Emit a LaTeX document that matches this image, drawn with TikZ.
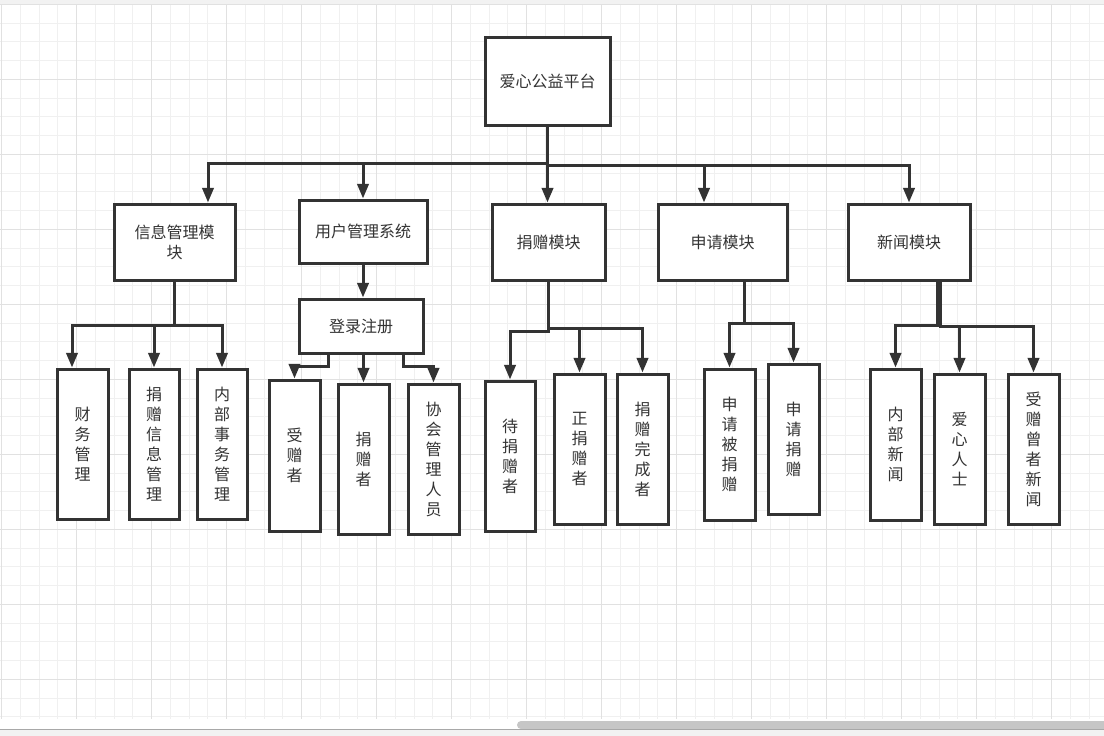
\documentclass[tikz,border=0pt]{standalone}
\usepackage{fontspec}
\setmainfont{Noto Sans CJK SC}
\usetikzlibrary{arrows.meta,calc}
\definecolor{ink}{HTML}{333333}
\definecolor{gminor}{HTML}{F0F0F0}
\definecolor{gmajor}{HTML}{E1E1E1}
\definecolor{chrome}{HTML}{F2F2F2}
\definecolor{thumb}{HTML}{C6C6C6}
\definecolor{sepline}{HTML}{A8A8A8}
\begin{document}
\begin{tikzpicture}[x=0.75pt,y=-0.75pt,
  box/.style={draw=ink, line width=2.25pt, fill=white, rectangle, inner sep=0pt, text=ink,
    font=\fontsize{12pt}{15pt}\selectfont, align=center},
  leaf/.style={box, minimum width=38.25pt, minimum height=112.5pt},
  arr/.style={draw=ink, line width=2.25pt, -{Triangle[length=11pt,width=8.5pt]}}]
\useasboundingbox (0,0) rectangle (1104,736);
\fill[white] (0,0) rectangle (1104,736);
\fill[chrome] (0,0) rectangle (1104,4);
% grid
\foreach \i in {0,...,58} {\draw[gminor, line width=0.75pt] ({1.7+18.75*\i},4) -- ({1.7+18.75*\i},719);}
\foreach \i in {0,...,38} {\draw[gminor, line width=0.75pt] (0,{4.3+18.75*\i}) -- (1104,{4.3+18.75*\i});}
\foreach \i in {0,...,14} {\draw[gmajor, line width=0.75pt] ({1.7+75*\i},4) -- ({1.7+75*\i},719);}
\foreach \i in {0,...,9} {\draw[gmajor, line width=0.75pt] (0,{4.3+75*\i}) -- (1104,{4.3+75*\i});}
% bottom chrome
\fill[white] (0,719) rectangle (1104,729);
\fill[thumb, rounded corners=3pt] (517,721) rectangle (1116,729);
\draw[sepline, line width=0.75pt] (0,729.5) -- (1104,729.5);
\fill[chrome] (0,730) rectangle (1104,736);

% nodes
\node[box, minimum width=93.75pt, minimum height=66pt] (root) at (547.5,81) {爱心公益平台};
\node[box, minimum width=90.75pt, minimum height=57pt] (m1) at (174.5,242) {信息管理模\\块};
\node[box, minimum width=96pt, minimum height=47.25pt] (m2) at (363,231.5) {用户管理系统};
\node[box, minimum width=93pt, minimum height=40.5pt] (m2b) at (361,326) {登录注册};
\node[box, minimum width=84.75pt, minimum height=57pt] (m3) at (548.5,242) {捐赠模块};
\node[box, minimum width=96.75pt, minimum height=57pt] (m4) at (722.5,242) {申请模块};
\node[box, minimum width=91.5pt, minimum height=57pt] (m5) at (909,242) {新闻模块};

\node[leaf] (a1) at (82.5,444) {财\\务\\管\\理};
\node[leaf, minimum width=37.5pt] (a2) at (154,444) {捐\\赠\\信\\息\\管\\理};
\node[leaf, minimum width=37.5pt] (a3) at (222,444) {内\\部\\事\\务\\管\\理};
\node[leaf, minimum height=113.25pt] (b1) at (294.5,455.5) {受\\赠\\者};
\node[leaf] (b2) at (363.5,459) {捐\\赠\\者};
\node[leaf] (b3) at (433.5,459) {协\\会\\管\\理\\人\\员};
\node[leaf, minimum width=37.5pt] (c1) at (510,456) {待\\捐\\赠\\者};
\node[leaf] (c2) at (579.5,449) {正\\捐\\赠\\者};
\node[leaf] (c3) at (642.5,449) {捐\\赠\\完\\成\\者};
\node[leaf, minimum height=113.25pt] (d1) at (729.5,444.5) {申\\请\\被\\捐\\赠};
\node[leaf] (d2) at (793.5,439) {申\\请\\捐\\赠};
\node[leaf, minimum height=113.25pt] (e1) at (895.5,444.5) {内\\部\\新\\闻};
\node[leaf] (e2) at (959.5,449) {爱\\心\\人\\士};
\node[leaf] (e3) at (1033.5,449) {受\\赠\\曾\\者\\新\\闻};

% connectors from root
\coordinate (busL) at (547.5,163);
\coordinate (busR) at (547.5,165);
\draw[arr] (root.south) -- (busL) -| ($(m1.north)+(33.5,0)$);
\draw[arr] (root.south) -- (busL) -| (m2.north);
\draw[arr] (root.south) -- (root.south |- m3.north);
\draw[arr] (root.south) -- (busR) -| ($(m4.north)+(-18.5,0)$);
\draw[arr] (root.south) -- (busR) -| (m5.north);

% m1 children
\coordinate (j1) at (174.5,325);
\draw[arr] (m1.south) -- (j1) -| ($(a1.north)+(-10.5,0)$);
\draw[arr] (m1.south) -- (j1) -| (a2.north);
\draw[arr] (m1.south) -- (j1) -| (a3.north);

% m2 chain
\draw[arr] (m2.south) -- (m2.south |- m2b.north);
\draw[arr] ($(m2b.south)+(-33,0)$) -- ++(0,12) -| (b1.north);
\draw[arr] (m2b.south -| b2.north) -- (b2.north);
\draw[arr] ($(m2b.south)+(42,0)$) -- ++(0,12) -| (b3.north);

% m3 children
\coordinate (j3) at (548.5,328);
\draw[arr] (m3.south) -- ++(0,50) -| (c1.north);
\draw[arr] (m3.south) -- (j3) -| (c2.north);
\draw[arr] (m3.south) -- (j3) -| (c3.north);

% m4 children
\coordinate (j4) at (744,323);
\draw[arr] ($(m4.south)+(21.5,0)$) -- (j4) -| (d1.north);
\draw[arr] ($(m4.south)+(21.5,0)$) -- ++(0,42) -| (d2.north);

% m5 children
\coordinate (j5) at (937,325);
\draw[arr] ($(m5.south)+(28,0)$) -- (j5) -| (e1.north);
\draw[arr] ($(m5.south)+(31,0)$) -- ++(0,45) -| (e2.north);
\draw[arr] ($(m5.south)+(31,0)$) -- ++(0,45) -| (e3.north);
\end{tikzpicture}
\end{document}
